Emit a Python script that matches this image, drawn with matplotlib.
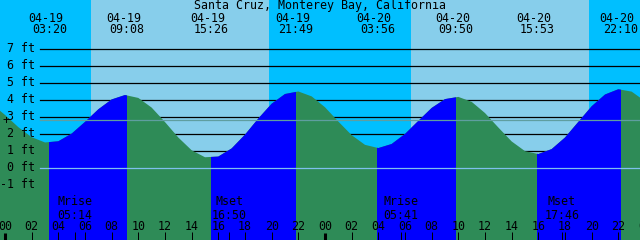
import matplotlib
matplotlib.use("Agg")
import matplotlib.pyplot as plt
from matplotlib.transforms import blended_transform_factory

title = "Santa Cruz, Monterey Bay, California"

# tide height (ft) on the hour, hours counted from 04-19 00:00
hours = list(range(-1, 49))
height = [3.79, 3.14, 2.42, 1.83, 1.52, 1.59, 2.04, 2.73, 3.47, 4.05,
          4.31, 4.14, 3.57, 2.72, 1.81, 1.06, 0.65, 0.69, 1.17, 1.98,
          2.93, 3.80, 4.37, 4.52, 4.23, 3.59, 2.75, 1.95, 1.38, 1.19,
          1.43, 2.02, 2.79, 3.55, 4.07, 4.20, 3.91, 3.25, 2.40, 1.58,
          1.01, 0.84, 1.13, 1.81, 2.73, 3.65, 4.34, 4.65, 4.51, 3.95]

tide_date = ["04-19", "04-19", "04-19", "04-19", "04-20", "04-20", "04-20", "04-20"]
tide_time = ["03:20", "09:08", "15:26", "21:49", "03:56", "09:50", "15:53", "22:10"]
tide_kind = ["low", "high", "low", "high", "low", "high", "low", "high"]

sun_day = [0, 1]
sunrise = ["06:27", "06:26"]
sunset = ["19:48", "19:49"]

moon_day = [0, 0, 1, 1]
moon_kind = ["Mrise", "Mset", "Mrise", "Mset"]
moon_time = ["05:14", "16:50", "05:41", "17:46"]

levels = [7, 6, 5, 4, 3, 2, 1, 0, -1]
msl = 2.84

NIGHT = "#00bfff"
DAY = "#87ceeb"
FLOOD = "#0000ff"
EBB = "#2e8b57"
MONO = "DejaVu Sans Mono"
FS = 8.4


def hrs(day, hhmm):
    h, m = hhmm.split(":")
    return day * 24 + int(h) + int(m) / 60.0


W, H = 640, 240
PX_PER_HR = 40 / 3.0
X0 = 5.0          # pixel of 04-19 00:00
Y0 = 168.3        # pixel of 0 ft
PX_PER_FT = 17.0

fig = plt.figure(figsize=(W / 100, H / 100), dpi=100)
ax = fig.add_axes([0, 0, 1, 1])
ax.set_xlim(-X0 / PX_PER_HR, (W - X0) / PX_PER_HR)
ax.set_ylim((Y0 - H) / PX_PER_FT, Y0 / PX_PER_FT)
ax.axis("off")
bt = blended_transform_factory(ax.transData, ax.transAxes)


def ya(ypx):
    return 1 - ypx / H


# sky: night everywhere, day between sunrise and sunset
ax.set_facecolor(NIGHT)
ax.axis("on")
for s in ax.spines.values():
    s.set_visible(False)
ax.set_xticks([])
ax.set_yticks([])
for d, r, s in zip(sun_day, sunrise, sunset):
    ax.axvspan(hrs(d, r), hrs(d, s), color=DAY, lw=0, zorder=0)

# foot lines behind the water
for lv in levels:
    ax.axhline(lv, xmin=39.5 / W, xmax=1, color="black", lw=0.9, zorder=1)

# water
bottom = (Y0 - H) / PX_PER_FT
water = ax.fill_between(hours, height, bottom, color=EBB, lw=0, zorder=2)
clip = water.get_paths()[0]
tide_hr = [hrs(0 if d == "04-19" else 1, t) for d, t in zip(tide_date, tide_time)]
for i, k in enumerate(tide_kind):
    if k == "low" and i + 1 < len(tide_hr):
        sp = ax.axvspan(tide_hr[i], tide_hr[i + 1], color=FLOOD, lw=0, zorder=3)
        sp.set_clip_path(clip, transform=ax.transData)

# datum and mean sea level
ax.axhline(0, xmin=39.5 / W, xmax=1, color="#7ec0ee", lw=0.9, zorder=4)
ax.axhline(msl, xmin=39.5 / W, xmax=1, color="#5f9ea0", lw=0.9, zorder=4)
ax.text(6 / PX_PER_HR - X0 / PX_PER_HR, msl, "+", family=MONO, size=FS,
        ha="center", va="center", zorder=5)

# y labels
for lv in levels:
    ax.text((35 - X0) / PX_PER_HR, lv - 3 / PX_PER_FT, "%d ft" % lv, family=MONO,
            size=FS, ha="right", va="baseline", zorder=5)

# title
ax.text(0.5, ya(9.5), title, transform=ax.transAxes, family=MONO, size=FS,
        ha="center", va="baseline", zorder=5)

# tide times
for t, d, tm in zip(tide_hr, tide_date, tide_time):
    ax.text(t - 3.5 / PX_PER_HR, ya(21.7), d, transform=bt, family=MONO, size=FS,
            ha="center", va="baseline", zorder=5)
    ax.text(t, ya(33.3), tm, transform=bt, family=MONO, size=FS,
            ha="center", va="baseline", zorder=5)

# moon rise/set
for d, k, tm in zip(moon_day, moon_kind, moon_time):
    t = hrs(d, tm)
    ax.text(t, ya(205), k, transform=bt, family=MONO, size=FS,
            ha="center", va="baseline", zorder=5)
    ax.text(t, ya(219), tm, transform=bt, family=MONO, size=FS,
            ha="center", va="baseline", zorder=5)
    ax.vlines(t, 0, ya(232), transform=bt, color="black", lw=0.72, zorder=5)

# hour ticks
for h in range(0, 49, 2):
    ax.text(h, ya(230), "%02d" % (h % 24), transform=bt, family=MONO, size=FS,
            ha="center", va="baseline", zorder=5)
    thick = h % 24 == 0
    ax.vlines(h, 0, ya(233 if thick else 232), transform=bt, color="black",
              lw=2.2 if thick else 0.72, zorder=5)

fig.savefig("out.png", dpi=100)
